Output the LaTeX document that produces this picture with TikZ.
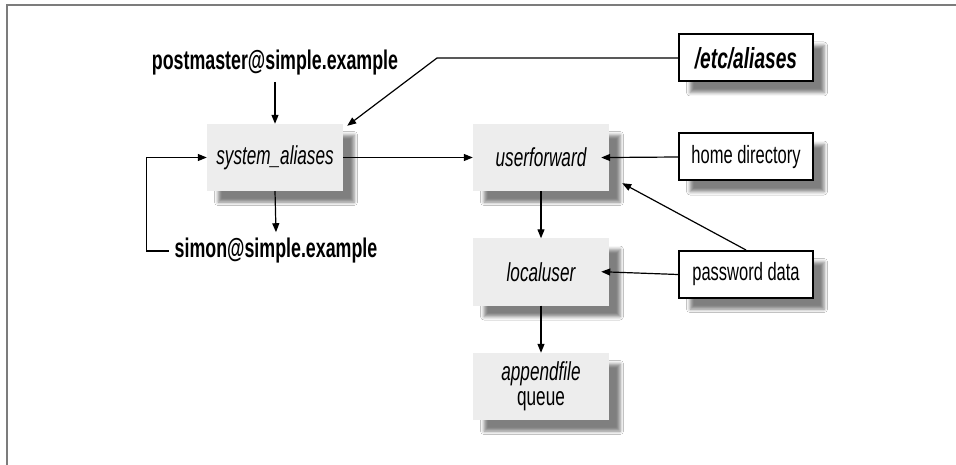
\documentclass[tikz,border=0pt]{standalone}
\usepackage{fontspec}
\setmainfont[FakeStretch=0.66]{Liberation Sans}
\usetikzlibrary{arrows.meta,calc,shadows.blur}

\begin{document}
\begin{tikzpicture}[x=1pt,y=-1pt,
  every node/.style={font=\fontsize{25}{26}\selectfont},
  boxshadow/.style={blur shadow={shadow xshift=11pt,shadow yshift=-11pt,
      shadow blur radius=3.5pt,shadow opacity=50}},
  module/.style={boxshadow,fill=modfill,minimum width=136pt,minimum height=67pt,
      inner sep=0pt,align=center,font=\fontsize{26}{26}\selectfont\itshape},
  source/.style={boxshadow,draw=black,line width=2pt,fill=white,
      minimum width=134pt,minimum height=47pt,inner sep=0pt},
  addr/.style={inner sep=6pt,font=\fontsize{27}{26}\selectfont\bfseries},
  arr/.style={line width=1.2pt,-{Triangle[length=9pt,width=7pt]}},
]
\definecolor{modfill}{HTML}{EDEDED}
\definecolor{framegray}{HTML}{7C7C7C}

% page and its open frame
\useasboundingbox (0,0) rectangle (956,465);
\fill[white] (0,0) rectangle (956,465);
\draw[framegray,line width=2pt] (7,465) -- (7,5) -- (956,5);

% address texts
\node[addr] (pm) at (275,63) {postmaster@simple.example};
\node[addr] (simon) at (276,251) {simon@simple.example};

% director modules
\node[module] (sa) at (275,157.5) {system\_aliases};
\node[module] (uf) at (541,157.5) {userforward};
\node[module] (lu) at (541,272) {localuser};
\node[module] (af) at (541,386.5) {appendfile\\[-1pt]{\upshape queue}};

% data sources
\node[source,font=\fontsize{29}{26}\selectfont\bfseries\itshape] (etc) at (746,58) {/etc/aliases};
\node[source] (home) at (746,157) {home directory};
\node[source] (pw) at (746,274.5) {password data};

% connectors
\coordinate (bend) at (437,58);
\draw[arr] (pm.south) -- (sa.north);
\draw[arr] (etc.west) -- (bend) -- ($(sa.north east)+(4,2)$);
\draw[arr] (sa.east) -- (uf.west);
\draw[arr] (sa.south) -- (simon.north);
\draw[arr] (simon.west) -- ++(-22,0) |- (sa.west);
\draw[arr,shorten >=-8pt] (home.west) -- (uf.east);
\draw[arr] (pw.north) -- ($(uf.south east)+(13,-8)$);
\draw[arr,shorten >=-8pt] (pw.west) -- (lu.east);
\draw[arr] (uf.south) -- (lu.north);
\draw[arr] (lu.south) -- (af.north);
\end{tikzpicture}
\end{document}
